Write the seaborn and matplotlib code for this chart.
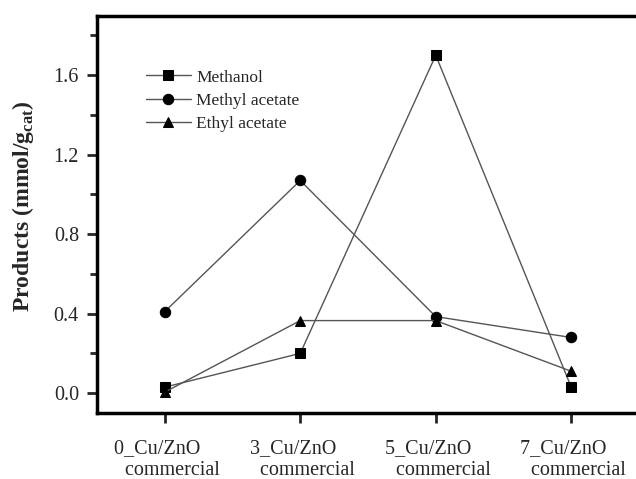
import matplotlib
matplotlib.use("Agg")
import matplotlib.pyplot as plt
import seaborn as sns
import pandas as pd
from matplotlib.ticker import MultipleLocator

categories = ["0_Cu/ZnO   \n   commercial", "3_Cu/ZnO   \n   commercial",
              "5_Cu/ZnO   \n   commercial", "7_Cu/ZnO   \n   commercial"]
methanol = [0.03, 0.20, 1.70, 0.03]
methyl_acetate = [0.41, 1.07, 0.385, 0.28]
ethyl_acetate = [0.005, 0.365, 0.365, 0.11]
series_names = ["Methanol", "Methyl acetate", "Ethyl acetate"]
markers = ["s", "o", "^"]
msizes = [6.5, 7.5, 7.5]

rows = []
for name, vals in zip(series_names, [methanol, methyl_acetate, ethyl_acetate]):
    for i, v in enumerate(vals):
        rows.append({"x": i, "y": v, "series": name})
df = pd.DataFrame(rows)

sns.set_style("ticks")
plt.rcParams["font.family"] = ["Liberation Serif", "DejaVu Serif"]
plt.rcParams["mathtext.fontset"] = "custom"
plt.rcParams["mathtext.rm"] = "Liberation Serif"
plt.rcParams["mathtext.bf"] = "Liberation Serif:bold"

fig = plt.figure(figsize=(6.36, 4.79), dpi=100)
ax = fig.add_axes([97/636, 1 - 413/479, 542/636, (413 - 15.5)/479])

for name, m, ms in zip(series_names, markers, msizes):
    sub = df[df["series"] == name]
    sns.lineplot(data=sub, x="x", y="y", ax=ax, color="#555555", linewidth=1.0,
                 marker=m, markersize=ms, markerfacecolor="black",
                 markeredgecolor="black", label=name, errorbar=None, sort=False)

ax.set_xlim(-0.5, 3.5)
ax.set_ylim(-0.1, 1.9)
ax.set_xticks(range(len(categories)))
ax.set_xticklabels(categories, fontsize=14.5, linespacing=1.22, multialignment="center")
ax.yaxis.set_major_locator(MultipleLocator(0.4))
ax.yaxis.set_minor_locator(MultipleLocator(0.2))
ax.yaxis.set_major_formatter(matplotlib.ticker.FormatStrFormatter("%.1f"))
ax.tick_params(axis="y", labelsize=14.5, width=2, length=7, pad=6, direction="out")
ax.tick_params(axis="y", which="minor", width=2, length=5)
ax.tick_params(axis="x", width=2, length=7, direction="out", pad=12)
ax.set_xlabel("")
ax.set_ylabel(r"Products (mmol/g$_{\mathbf{cat}}$)", fontsize=17, fontweight="bold")
ax.yaxis.set_label_coords(-0.113, 0.52)

for s in ["left", "bottom", "top"]:
    ax.spines[s].set_linewidth(2.5)
    ax.spines[s].set_color("black")
ax.spines["right"].set_visible(False)

leg = ax.legend(loc="upper left", bbox_to_anchor=(0.077, 0.882), frameon=False, fontsize=12.5,
                handlelength=2.6, handletextpad=0.3, labelspacing=0.42, borderaxespad=0)

fig.savefig("out.png", dpi=100)
